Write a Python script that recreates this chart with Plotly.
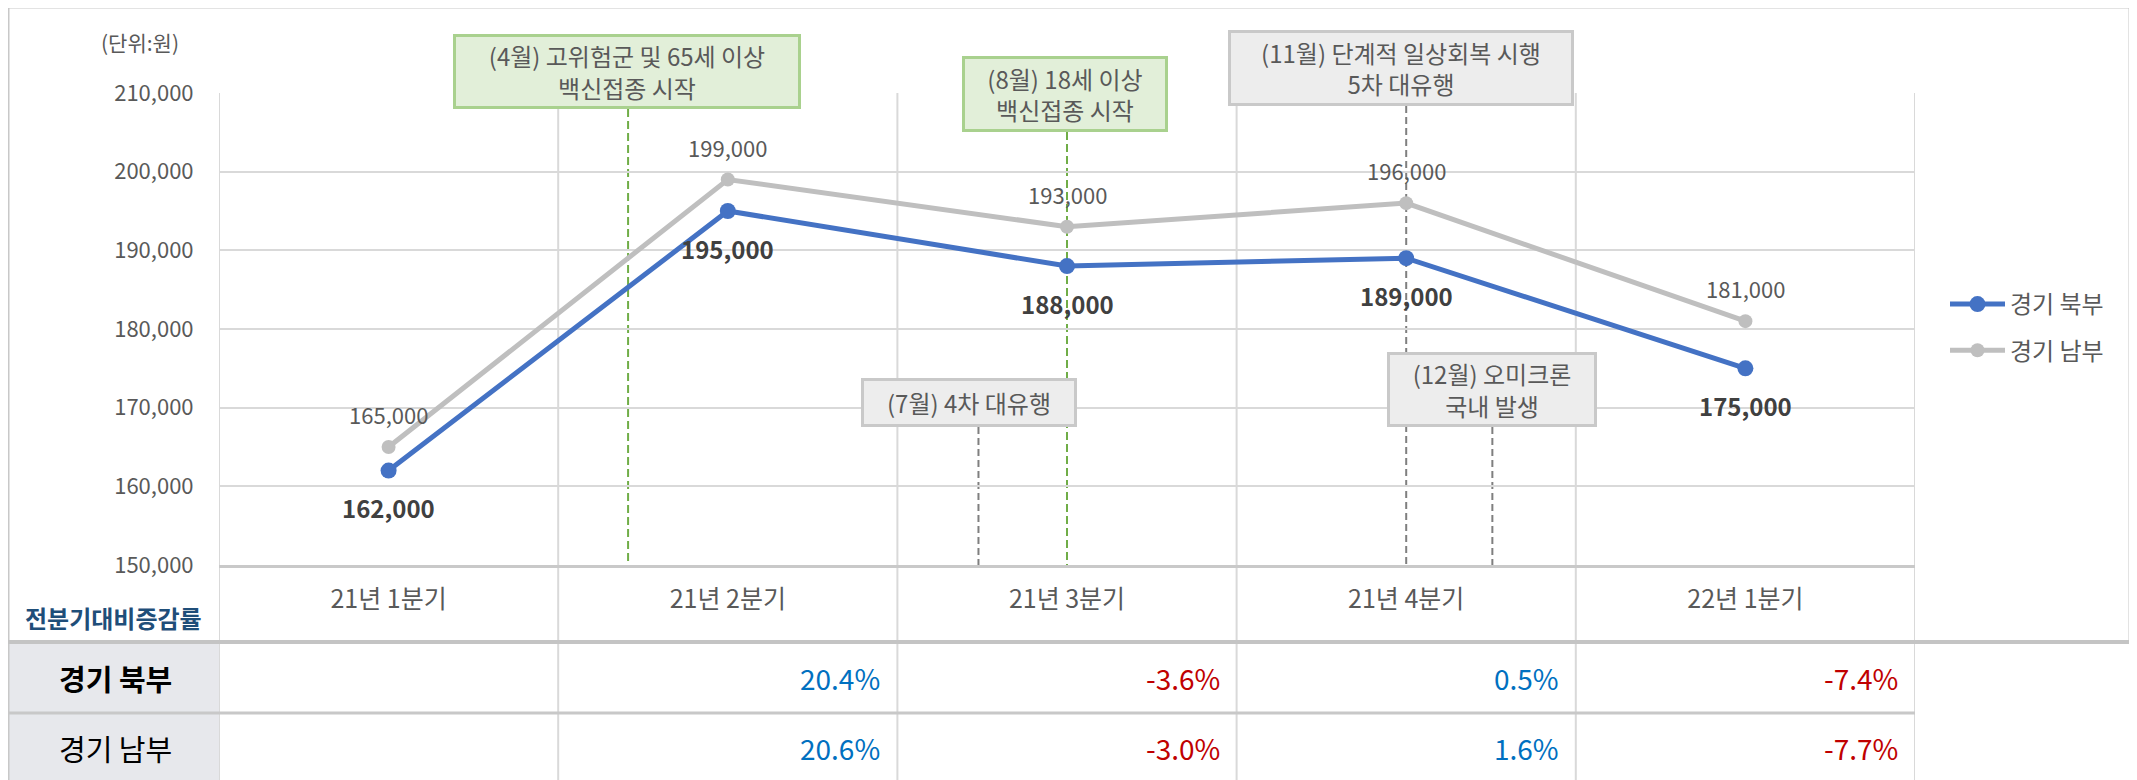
import plotly.graph_objects as go

W, H = 2137, 780
OFF = 8   # default page body margin: figure origin sits at page (8, 8)

# ---------------- data ----------------
categories = ["21년 1분기", "21년 2분기", "21년 3분기", "21년 4분기", "22년 1분기"]
north_name = "경기 북부"
south_name = "경기 남부"
north = [162000, 195000, 188000, 189000, 175000]
south = [165000, 199000, 193000, 196000, 181000]
north_chg = [None, 20.4, -3.6, 0.5, -7.4]
south_chg = [None, 20.6, -3.0, 1.6, -7.7]
y_ticks = [150000, 160000, 170000, 180000, 190000, 200000, 210000]
y_tick_labels = ["150,000", "160,000", "170,000", "180,000", "190,000", "200,000", "210,000"]
unit_label = "(단위:원)"
table_title = "전분기대비증감률"
event_texts = [
    "(4월) 고위험군 및 65세 이상<br>백신접종 시작",
    "(8월) 18세 이상<br>백신접종 시작",
    "(11월) 단계적 일상회복 시행<br>5차 대유행",
    "(7월) 4차 대유행",
    "(12월) 오미크론<br>국내 발생",
]
event_kind = ["vaccine", "vaccine", "wave", "wave", "wave"]

# ---------------- layout geometry (page pixels) ----------------
FONT = "Noto Sans CJK KR"
PL, PR, PT, PB = 219, 1915, 93, 565          # plot area
BL, BT, BR = 8, 7, 2130                      # outer border
HEAD_Y, ROW_Y = 642, 713                     # table lines
# event line x (category units), box (x0, y0, x1, y1) in px
event_x = [0.706, 2.0, 3.0, 1.739, 3.254]
event_box = [(453, 34, 801, 109), (962, 56, 1168, 132), (1228, 30, 1574, 106),
             (861, 378, 1077, 427), (1387, 352, 1597, 427)]

def fx(px):
    return (px - OFF) / W

def fy(py):
    return 1 - (py - OFF) / H

GRID = "#d9d9d9"
BORDER = "#c8c8c8"
TXT = "#595959"

fig = go.Figure()
fig.add_trace(go.Scatter(
    x=categories, y=south, name=south_name, mode="lines+markers",
    line=dict(color="#bfbfbf", width=5), marker=dict(size=14, color="#bfbfbf"),
    legendrank=2, legendgroup="s"))
fig.add_trace(go.Scatter(
    x=categories, y=north, name=north_name, mode="lines+markers",
    line=dict(color="#4472c4", width=5), marker=dict(size=16, color="#4472c4"),
    legendrank=1, legendgroup="n"))

shapes = []
annotations = []

# event dashed lines
for ex, box, kind in zip(event_x, event_box, event_kind):
    if kind == "vaccine":
        col, dash = "#70ad47", "8px,4px"
    else:
        col, dash = "#7f7f7f", "7px,4px"
    shapes.append(dict(type="line", xref="x", yref="paper", x0=ex, x1=ex,
                       y0=fy(box[3]), y1=fy(PB), line=dict(color=col, width=2, dash=dash),
                       layer="below"))

# vertical category boundaries / table column lines
for i in range(len(categories) + 1):
    shapes.append(dict(type="line", xref="x", yref="paper", x0=i - 0.5, x1=i - 0.5,
                       y0=fy(PT), y1=fy(H + OFF), line=dict(color=GRID, width=2), layer="below"))

# table first-column background
shapes.append(dict(type="rect", xref="paper", yref="paper", x0=fx(BL), x1=fx(PL),
                   y0=fy(HEAD_Y), y1=fy(H + OFF), fillcolor="#e7e8ec", line=dict(width=0),
                   layer="below"))
# outer border
shapes.append(dict(type="line", xref="paper", yref="paper", x0=fx(BL), x1=fx(BR),
                   y0=fy(BT), y1=fy(BT), line=dict(color=BORDER, width=3)))
shapes.append(dict(type="line", xref="paper", yref="paper", x0=fx(BL), x1=fx(BL),
                   y0=fy(BT), y1=fy(H + OFF), line=dict(color=BORDER, width=3)))
shapes.append(dict(type="line", xref="paper", yref="paper", x0=fx(BR), x1=fx(BR),
                   y0=fy(BT), y1=fy(HEAD_Y), line=dict(color=BORDER, width=3)))
shapes.append(dict(type="line", xref="paper", yref="paper", x0=fx(BL), x1=fx(BR),
                   y0=fy(HEAD_Y), y1=fy(HEAD_Y), line=dict(color="#c4c4c4", width=4)))
shapes.append(dict(type="line", xref="paper", yref="paper", x0=fx(BL), x1=fx(PR),
                   y0=fy(ROW_Y), y1=fy(ROW_Y), line=dict(color=BORDER, width=3)))

# event boxes
for t, box, kind in zip(event_texts, event_box, event_kind):
    if kind == "vaccine":
        bg, bc = "#e2efd9", "#a9d18e"
    else:
        bg, bc = "#ededed", "#c9c9c9"
    x0, y0, x1, y1 = box
    annotations.append(dict(
        text=t, xref="paper", yref="paper", x=fx((x0 + x1) / 2), y=fy((y0 + y1) / 2),
        xanchor="center", yanchor="middle", showarrow=False,
        width=x1 - x0 - 6, height=y1 - y0 - 6, borderpad=0, borderwidth=3,
        bgcolor=bg, bordercolor=bc, font=dict(family=FONT, size=24, color=TXT)))

# data labels
for c, v in zip(categories, north):
    annotations.append(dict(text=f"{v:,}", x=c, y=v, xref="x", yref="y", yshift=-37,
                            showarrow=False, xanchor="center", yanchor="middle",
                            font=dict(family=FONT, size=24, color="#404040", weight="bold")))
for c, v in zip(categories, south):
    annotations.append(dict(text=f"{v:,}", x=c, y=v, xref="x", yref="y", yshift=33,
                            showarrow=False, xanchor="center", yanchor="middle",
                            font=dict(family=FONT, size=22, color=TXT)))

# unit label
annotations.append(dict(text=unit_label, xref="paper", yref="paper", x=fx(140), y=fy(42),
                        xanchor="center", yanchor="middle", showarrow=False,
                        font=dict(family=FONT, size=21, color=TXT)))
# table
annotations.append(dict(text=table_title, xref="paper", yref="paper", x=fx(113), y=fy(617),
                        xanchor="center", yanchor="middle", showarrow=False,
                        font=dict(family=FONT, size=24, color="#1f4e79", weight="bold")))
annotations.append(dict(text=north_name, xref="paper", yref="paper", x=fx(115), y=fy(678),
                        xanchor="center", yanchor="middle", showarrow=False,
                        font=dict(family=FONT, size=29, color="#000000", weight="bold")))
annotations.append(dict(text=south_name, xref="paper", yref="paper", x=fx(115), y=fy(748),
                        xanchor="center", yanchor="middle", showarrow=False,
                        font=dict(family=FONT, size=29, color="#000000")))
colw = (PR - PL) / len(categories)
for row_vals, ypx in ((north_chg, 678), (south_chg, 748)):
    for i, v in enumerate(row_vals):
        if v is None:
            continue
        col = "#0070c0" if v >= 0 else "#c00000"
        annotations.append(dict(text=f"{v:.1f}%", xref="paper", yref="paper",
                                x=fx(PL + (i + 1) * colw - 15), y=fy(ypx),
                                xanchor="right", yanchor="middle", showarrow=False,
                                font=dict(family=FONT, size=28, color=col)))

fig.update_layout(
    width=W, height=H, margin=dict(l=0, r=0, t=0, b=0, pad=0, autoexpand=False),
    paper_bgcolor="white", plot_bgcolor="white",
    font=dict(family=FONT, color=TXT),
    shapes=shapes, annotations=annotations,
    showlegend=True,
    legend=dict(x=fx(1945), y=fy(282), xanchor="left", yanchor="top",
                font=dict(family=FONT, size=24, color=TXT), itemwidth=55,
                tracegroupgap=12, bgcolor="rgba(0,0,0,0)", traceorder="grouped"),
    xaxis=dict(domain=[fx(PL), fx(PR)], type="category", range=[-0.5, 4.5],
               showgrid=False, showline=True, linecolor="#c9c9c9", linewidth=3,
               ticks="outside", ticklen=10, tickcolor="rgba(0,0,0,0)", automargin=False,
               tickfont=dict(family=FONT, size=25, color=TXT), fixedrange=True),
    yaxis=dict(domain=[fy(PB), fy(PT)], range=[150000, 210000],
               tickvals=y_ticks, ticktext=y_tick_labels, automargin=False,
               showgrid=True, gridcolor=GRID, gridwidth=2, zeroline=False,
               showline=False, ticks="outside", ticklen=20, tickcolor="rgba(0,0,0,0)",
               tickfont=dict(family=FONT, size=22, color=TXT), fixedrange=True),
)

fig.write_html("out.html")
